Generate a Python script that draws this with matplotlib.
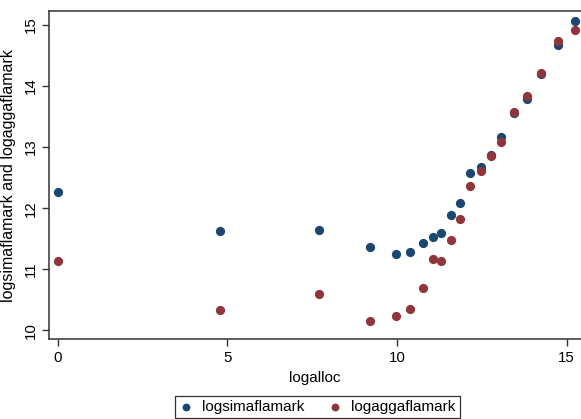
import matplotlib
matplotlib.use("Agg")
import matplotlib.pyplot as plt

plt.rcParams['font.family'] = ['Liberation Sans', 'DejaVu Sans']

# values
logalloc = [0.0, 4.79, 7.70, 9.21, 9.97, 10.39, 10.75, 11.05, 11.30, 11.59,
            11.86, 12.16, 12.48, 12.77, 13.07, 13.44, 13.83, 14.25, 14.73, 15.23]
logsimaflamark = [12.27, 11.63, 11.65, 11.37, 11.25, 11.28, 11.43, 11.53, 11.60, 11.89,
                  12.08, 12.58, 12.67, 12.87, 13.16, 13.56, 13.79, 14.19, 14.68, 15.06]
logaggaflamark = [11.14, 10.33, 10.59, 10.15, 10.23, 10.35, 10.69, 11.17, 11.14, 11.48,
                  11.83, 12.36, 12.61, 12.86, 13.09, 13.57, 13.83, 14.22, 14.74, 14.92]
xticks = [0, 5, 10, 15]
yticks = [10, 11, 12, 13, 14, 15]

navy = "#1a476f"
maroon = "#90353b"

fig = plt.figure(figsize=(5.81, 4.19), dpi=100)
ax = fig.add_axes([0.0835, 0.190, 0.9165, 0.7837])

# red drawn on top of blue, like the original
ax.scatter(logalloc, logsimaflamark, s=44, color=navy, linewidths=0, label="logsimaflamark", zorder=3)
ax.scatter(logalloc, logaggaflamark, s=44, color=maroon, linewidths=0, label="logaggaflamark", zorder=4)

ax.set_xlim(-0.27, 15.42)
ax.set_ylim(9.85, 15.23)
ax.set_xticks(xticks)
ax.set_yticks(yticks)
ax.set_yticklabels([str(t) for t in yticks], rotation=90, va="center")
ax.tick_params(direction="out", length=5, width=1, colors="#333333", labelcolor="black",
               labelsize=10.8, pad=3)

for side in ["left", "bottom", "top"]:
    ax.spines[side].set_color("#333333")
    ax.spines[side].set_linewidth(1.1)
ax.spines["right"].set_visible(False)

ax.set_xlabel("logalloc", fontsize=11, labelpad=5)
ax.set_ylabel("logsimaflamark and logaggaflamark", fontsize=11.5, labelpad=5)

leg = fig.legend(loc="center", bbox_to_anchor=(0.546, 0.029), ncol=2, fontsize=11,
                 frameon=True, fancybox=False, edgecolor="black", handletextpad=0.6,
                 columnspacing=1.6, borderpad=0.25, handlelength=0.9, markerscale=0.85)
leg.get_frame().set_linewidth(0.9)

fig.savefig("out.png", dpi=100)
